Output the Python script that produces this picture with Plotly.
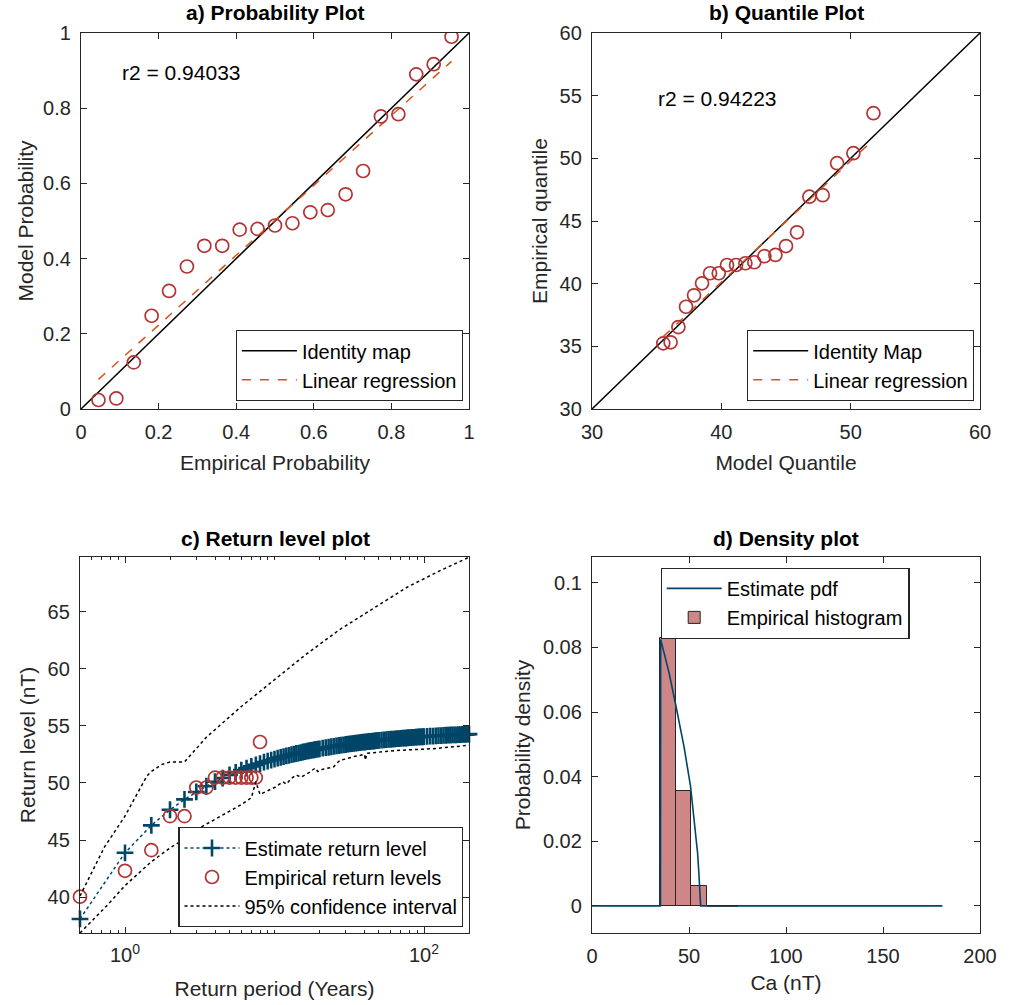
import numpy as np
import plotly.graph_objects as go
from plotly.subplots import make_subplots

# ---- a) probability plot
emp_prob = [0.045, 0.091, 0.136, 0.182, 0.227, 0.273, 0.318, 0.364, 0.409, 0.455, 0.500,
            0.545, 0.591, 0.636, 0.682, 0.727, 0.773, 0.818, 0.864, 0.909, 0.955]
model_prob = [0.024, 0.028, 0.124, 0.248, 0.314, 0.379, 0.434, 0.434, 0.477, 0.479, 0.488,
              0.494, 0.523, 0.529, 0.571, 0.633, 0.778, 0.784, 0.890, 0.917, 0.990]
r2_prob = "r2 = 0.94033"

# ---- b) quantile plot
model_q = [35.51, 36.08, 36.68, 37.27, 37.89, 38.51, 39.13, 39.80, 40.44, 41.14, 41.86,
           42.55, 43.33, 44.18, 45.00, 45.85, 46.81, 47.84, 48.95, 50.21, 51.76]
emp_q = [35.24, 35.32, 36.54, 38.16, 39.07, 40.03, 40.83, 40.83, 41.49, 41.49, 41.63,
         41.71, 42.19, 42.29, 43.00, 44.10, 46.94, 47.06, 49.61, 50.41, 53.60]
r2_quant = "r2 = 0.94223"

# ---- c) return level plot
est_period = [0.5, 1, 1.5, 2, 2.5, 3, 3.5, 4, 4.5, 5, 5.5, 6, 6.5, 7, 7.5, 8, 8.5, 9, 9.5, 10,
              10.5, 11, 11.5, 12, 12.5, 13, 13.5, 14, 14.5, 15, 15.5, 16, 16.5, 17, 17.5, 18,
              18.5, 19, 19.5, 20, 21, 22, 23, 24, 25, 26, 27, 28, 29, 30, 31, 32, 33, 34, 35,
              36, 37, 38, 39, 40, 41, 42, 43, 44, 45, 46, 47, 48, 49, 50, 52, 54, 56, 58, 60,
              62, 64, 66, 68, 70, 72, 74, 76, 78, 80, 82, 84, 86, 88, 90, 92, 94, 96, 98, 100,
              105, 110, 115, 120, 125, 130, 135, 140, 145, 150, 155, 160, 165, 170, 175, 180,
              185, 190, 195, 200]
est_level = [38.08, 43.88, 46.28, 47.65, 48.56, 49.21, 49.71, 50.11, 50.43, 50.70, 50.93,
             51.12, 51.30, 51.45, 51.58, 51.70, 51.82, 51.91, 52.00, 52.09, 52.17, 52.24,
             52.30, 52.37, 52.42, 52.48, 52.53, 52.58, 52.62, 52.66, 52.71, 52.74, 52.78,
             52.82, 52.85, 52.88, 52.91, 52.94, 52.97, 52.99, 53.05, 53.09, 53.13, 53.17,
             53.21, 53.25, 53.28, 53.31, 53.34, 53.37, 53.40, 53.42, 53.44, 53.47, 53.49,
             53.51, 53.53, 53.55, 53.57, 53.58, 53.60, 53.62, 53.63, 53.65, 53.66, 53.67,
             53.69, 53.70, 53.71, 53.73, 53.75, 53.77, 53.79, 53.81, 53.83, 53.84, 53.86,
             53.88, 53.89, 53.90, 53.92, 53.93, 53.94, 53.96, 53.97, 53.98, 53.99, 54.00,
             54.01, 54.02, 54.03, 54.03, 54.04, 54.05, 54.06, 54.08, 54.10, 54.11, 54.13,
             54.14, 54.15, 54.16, 54.18, 54.19, 54.20, 54.21, 54.22, 54.22, 54.23, 54.24,
             54.25, 54.26, 54.26, 54.27, 54.28]
emp_period = [0.5, 1, 1.5, 2, 2.5, 3, 3.5, 4, 4.5, 5, 5.5, 6, 6.5, 7, 7.5, 8]
emp_level = [40.03, 42.30, 44.11, 47.09, 47.09, 49.60, 49.60, 50.47, 50.47, 50.47, 50.47,
             50.47, 50.47, 50.47, 50.47, 53.59]
ci_up_period = [0.5, 0.73, 1, 1.25, 1.4, 1.5, 1.75, 2, 2.5, 3, 3.5, 6, 10, 16, 27, 46, 77, 128, 200]
ci_up_level = [40.1, 44.4, 47.1, 49.5, 50.6, 51.0, 51.6, 51.84, 51.84, 53.0, 54.0, 56.7,
               59.0, 61.2, 63.4, 65.3, 67.15, 68.6, 69.78]
ci_lo_period = [0.5, 0.75, 1, 1.5, 2, 2.5, 3, 4, 5, 6, 7, 7.5, 8, 9, 10, 11.4, 12, 13, 14,
                15, 17, 18.7, 19.5, 21, 24.8, 26, 27.5, 30, 33.6, 37, 40, 40.5, 41.5, 50,
                69, 115, 200]
ci_lo_level = [36.85, 39.2, 41.0, 43.1, 44.3, 45.1, 45.9, 46.8, 47.5, 48.1, 48.7, 50.1,
               49.0, 49.3, 49.6, 50.1, 49.9, 50.4, 50.7, 50.5, 50.9, 51.3, 51.0, 51.2,
               51.4, 51.7, 52.0, 52.1, 52.3, 52.4, 52.5, 52.0, 52.6, 52.7, 52.86, 53.0, 53.3]

# ---- d) density plot
pdf_x = [0, 35.3, 35.4, 39.7, 43.3, 47.4, 50.8, 53.4, 54.4, 55.1, 55.7, 56.0, 180.6]
pdf_y = [0, 0, 0.0825, 0.0722, 0.0618, 0.0494, 0.0370, 0.0225, 0.0165, 0.0101, 0.004, 0, 0]
bin_edges = [35.1, 43.15, 51.2, 59.2, 67.2, 75.2]
bin_density = [0.0830, 0.0355, 0.0060, 0, 0]

FONT = "Liberation Sans, Arial, sans-serif"
AX = "#262626"
RED = "rgb(178,51,51)"
ORANGE = "rgb(217,83,25)"
NAVY = "rgb(0,70,105)"
W, H = 1010, 1005


def px_x(a, b):
    return [a / W, b / W]


def px_y(top, bottom):
    return [1 - bottom / H, 1 - top / H]


def pos_x(a):
    return a / W


def pos_y(b):
    return 1 - b / H


fig = make_subplots(rows=2, cols=2)

# a)
fig.add_trace(go.Scatter(x=[0, 1], y=[0, 1], mode="lines", name="Identity map",
                         line=dict(color="black", width=1.5), legend="legend"), 1, 1)
slope, icpt = np.polyfit(emp_prob, model_prob, 1)
xa = np.array([emp_prob[0], emp_prob[-1]])
fig.add_trace(go.Scatter(x=xa, y=slope * xa + icpt, mode="lines", name="Linear regression",
                         line=dict(color=ORANGE, width=1.5, dash="dash"), legend="legend"), 1, 1)
fig.add_trace(go.Scatter(x=emp_prob, y=model_prob, mode="markers", showlegend=False,
                         marker=dict(symbol="circle-open", size=13, color=RED, line=dict(width=1.7))), 1, 1)

# b)
fig.add_trace(go.Scatter(x=[30, 60], y=[30, 60], mode="lines", name="Identity Map",
                         line=dict(color="black", width=1.5), legend="legend2"), 1, 2)
slope_b, icpt_b = np.polyfit(model_q, emp_q, 1)
xb = np.array([model_q[0], model_q[-1]])
fig.add_trace(go.Scatter(x=xb, y=slope_b * xb + icpt_b, mode="lines", name="Linear regression",
                         line=dict(color=ORANGE, width=1.5, dash="dash"), legend="legend2"), 1, 2)
fig.add_trace(go.Scatter(x=model_q, y=emp_q, mode="markers", showlegend=False,
                         marker=dict(symbol="circle-open", size=13, color=RED, line=dict(width=1.7))), 1, 2)

# c)
fig.add_trace(go.Scatter(x=est_period, y=est_level, mode="lines+markers", name="Estimate return level",
                         line=dict(color=NAVY, width=1.5, dash="dot"), cliponaxis=False,
                         marker=dict(symbol="cross-thin-open", size=12, color=NAVY,
                                     line=dict(width=2.6, color=NAVY)),
                         legend="legend3"), 2, 1)
fig.add_trace(go.Scatter(x=emp_period, y=emp_level, mode="markers", name="Empirical return levels",
                         cliponaxis=False,
                         marker=dict(symbol="circle-open", size=13, color=RED, line=dict(width=1.7)),
                         legend="legend3"), 2, 1)
fig.add_trace(go.Scatter(x=ci_lo_period, y=ci_lo_level, mode="lines", name="95% confidence interval",
                         line=dict(color="black", width=1.5, dash="dot"), legend="legend3"), 2, 1)
fig.add_trace(go.Scatter(x=ci_up_period, y=ci_up_level, mode="lines", showlegend=False,
                         line=dict(color="black", width=1.5, dash="dot"), legend="legend3"), 2, 1)

# d)
fig.add_trace(go.Scatter(x=pdf_x, y=pdf_y, mode="lines", name="Estimate pdf",
                         line=dict(color=NAVY, width=1.6), legend="legend4"), 2, 2)
centers = [(a + b) / 2 for a, b in zip(bin_edges[:-1], bin_edges[1:])]
widths = [b - a for a, b in zip(bin_edges[:-1], bin_edges[1:])]
fig.add_trace(go.Bar(x=centers[:3], y=bin_density[:3], width=widths[:3], name="Empirical histogram",
                     marker=dict(color="rgb(206,134,134)", line=dict(color="#262626", width=1)),
                     legend="legend4"), 2, 2)
fig.add_trace(go.Scatter(x=[bin_edges[3], bin_edges[-1]], y=[0, 0], mode="lines", showlegend=False,
                         line=dict(color="#262626", width=1.5)), 2, 2)

# layout
tick_font = dict(family=FONT, size=20, color=AX)
axis_common = dict(showline=True, linecolor=AX, linewidth=1.3, mirror="ticks", ticks="inside",
                   ticklen=6, tickcolor=AX, showgrid=False, zeroline=False, tickfont=tick_font,
                   automargin=False, ticklabelstandoff=5,
                   title_font=dict(family=FONT, size=21, color=AX))

fig.update_layout(
    xaxis=dict(axis_common, domain=px_x(81, 469), range=[0, 1], dtick=0.2,
               title=dict(text="Empirical Probability", standoff=13)),
    yaxis=dict(axis_common, domain=px_y(33, 409), range=[0, 1], dtick=0.2,
               title=dict(text="Model Probability", standoff=3)),
    xaxis2=dict(axis_common, domain=px_x(592, 980), range=[30, 60], dtick=10,
                title=dict(text="Model Quantile", standoff=13)),
    yaxis2=dict(axis_common, domain=px_y(33, 409), range=[30, 60], dtick=5,
                title=dict(text="Empirical quantile", standoff=6)),
    xaxis3=dict(axis_common, domain=px_x(80, 469), type="log",
                range=[np.log10(0.5), np.log10(200)], ticklabelstandoff=4,
                tickmode="array", tickvals=[1, 100], ticktext=["10<sup>0</sup>", "10<sup>2</sup>"],
                minor=dict(ticks="inside", ticklen=3, tickcolor=AX,
                           tickvals=[m * 10.0 ** e for e in (-1, 0, 1, 2) for m in range(1, 10)]),
                title=dict(text="Return period (Years)", standoff=16)),
    yaxis3=dict(axis_common, domain=px_y(557, 933), range=[36.85, 69.8], dtick=5,
                title=dict(text="Return level (nT)", standoff=6)),
    xaxis4=dict(axis_common, domain=px_x(592, 980), range=[0, 200], dtick=50,
                title=dict(text="Ca (nT)", standoff=9)),
    yaxis4=dict(axis_common, domain=px_y(557, 933), range=[-0.0084, 0.108], dtick=0.02,
                title=dict(text="Probability density", standoff=6)),
    width=W, height=H, margin=dict(l=0, r=0, t=0, b=0, autoexpand=False),
    paper_bgcolor="white", plot_bgcolor="white",
    font=dict(family=FONT, size=20, color=AX),
    bargap=0,
)

legend_common = dict(bgcolor="white", bordercolor=AX, borderwidth=1.2,
                     font=dict(family=FONT, size=20, color="black"), itemwidth=55,
                     tracegroupgap=0)
fig.update_layout(
    legend=dict(legend_common, x=pos_x(462.7), y=pos_y(401), xanchor="right", yanchor="bottom"),
    legend2=dict(legend_common, x=pos_x(974), y=pos_y(401), xanchor="right", yanchor="bottom"),
    legend3=dict(legend_common, x=pos_x(463.3), y=pos_y(927.3), xanchor="right", yanchor="bottom"),
    legend4=dict(legend_common, x=pos_x(785), y=pos_y(567.7), xanchor="center", yanchor="top"),
)

titles = [("a) Probability Plot", 275, 13), ("b) Quantile Plot", 786, 13),
          ("c) Return level plot", 275, 538), ("d) Density plot", 786, 538)]
for text, cx, cy in titles:
    fig.add_annotation(text=f"<b>{text}</b>", xref="paper", yref="paper",
                       x=pos_x(cx), y=pos_y(cy), xanchor="center", yanchor="middle",
                       showarrow=False, font=dict(family=FONT, size=21, color="black"))

fig.add_annotation(text=r2_prob, xref="x", yref="y", x=0.1, y=0.894, xanchor="left",
                   showarrow=False, font=dict(family=FONT, size=21, color="black"))
fig.add_annotation(text=r2_quant, xref="x2", yref="y2", x=34.95, y=54.74, xanchor="left",
                   showarrow=False, font=dict(family=FONT, size=21, color="black"))

# drop the default 8px page margin so the figure sits at the window corner
fig.write_html("out.html", config={"displayModeBar": False},
               post_script="document.body.style.margin = '0px';")
